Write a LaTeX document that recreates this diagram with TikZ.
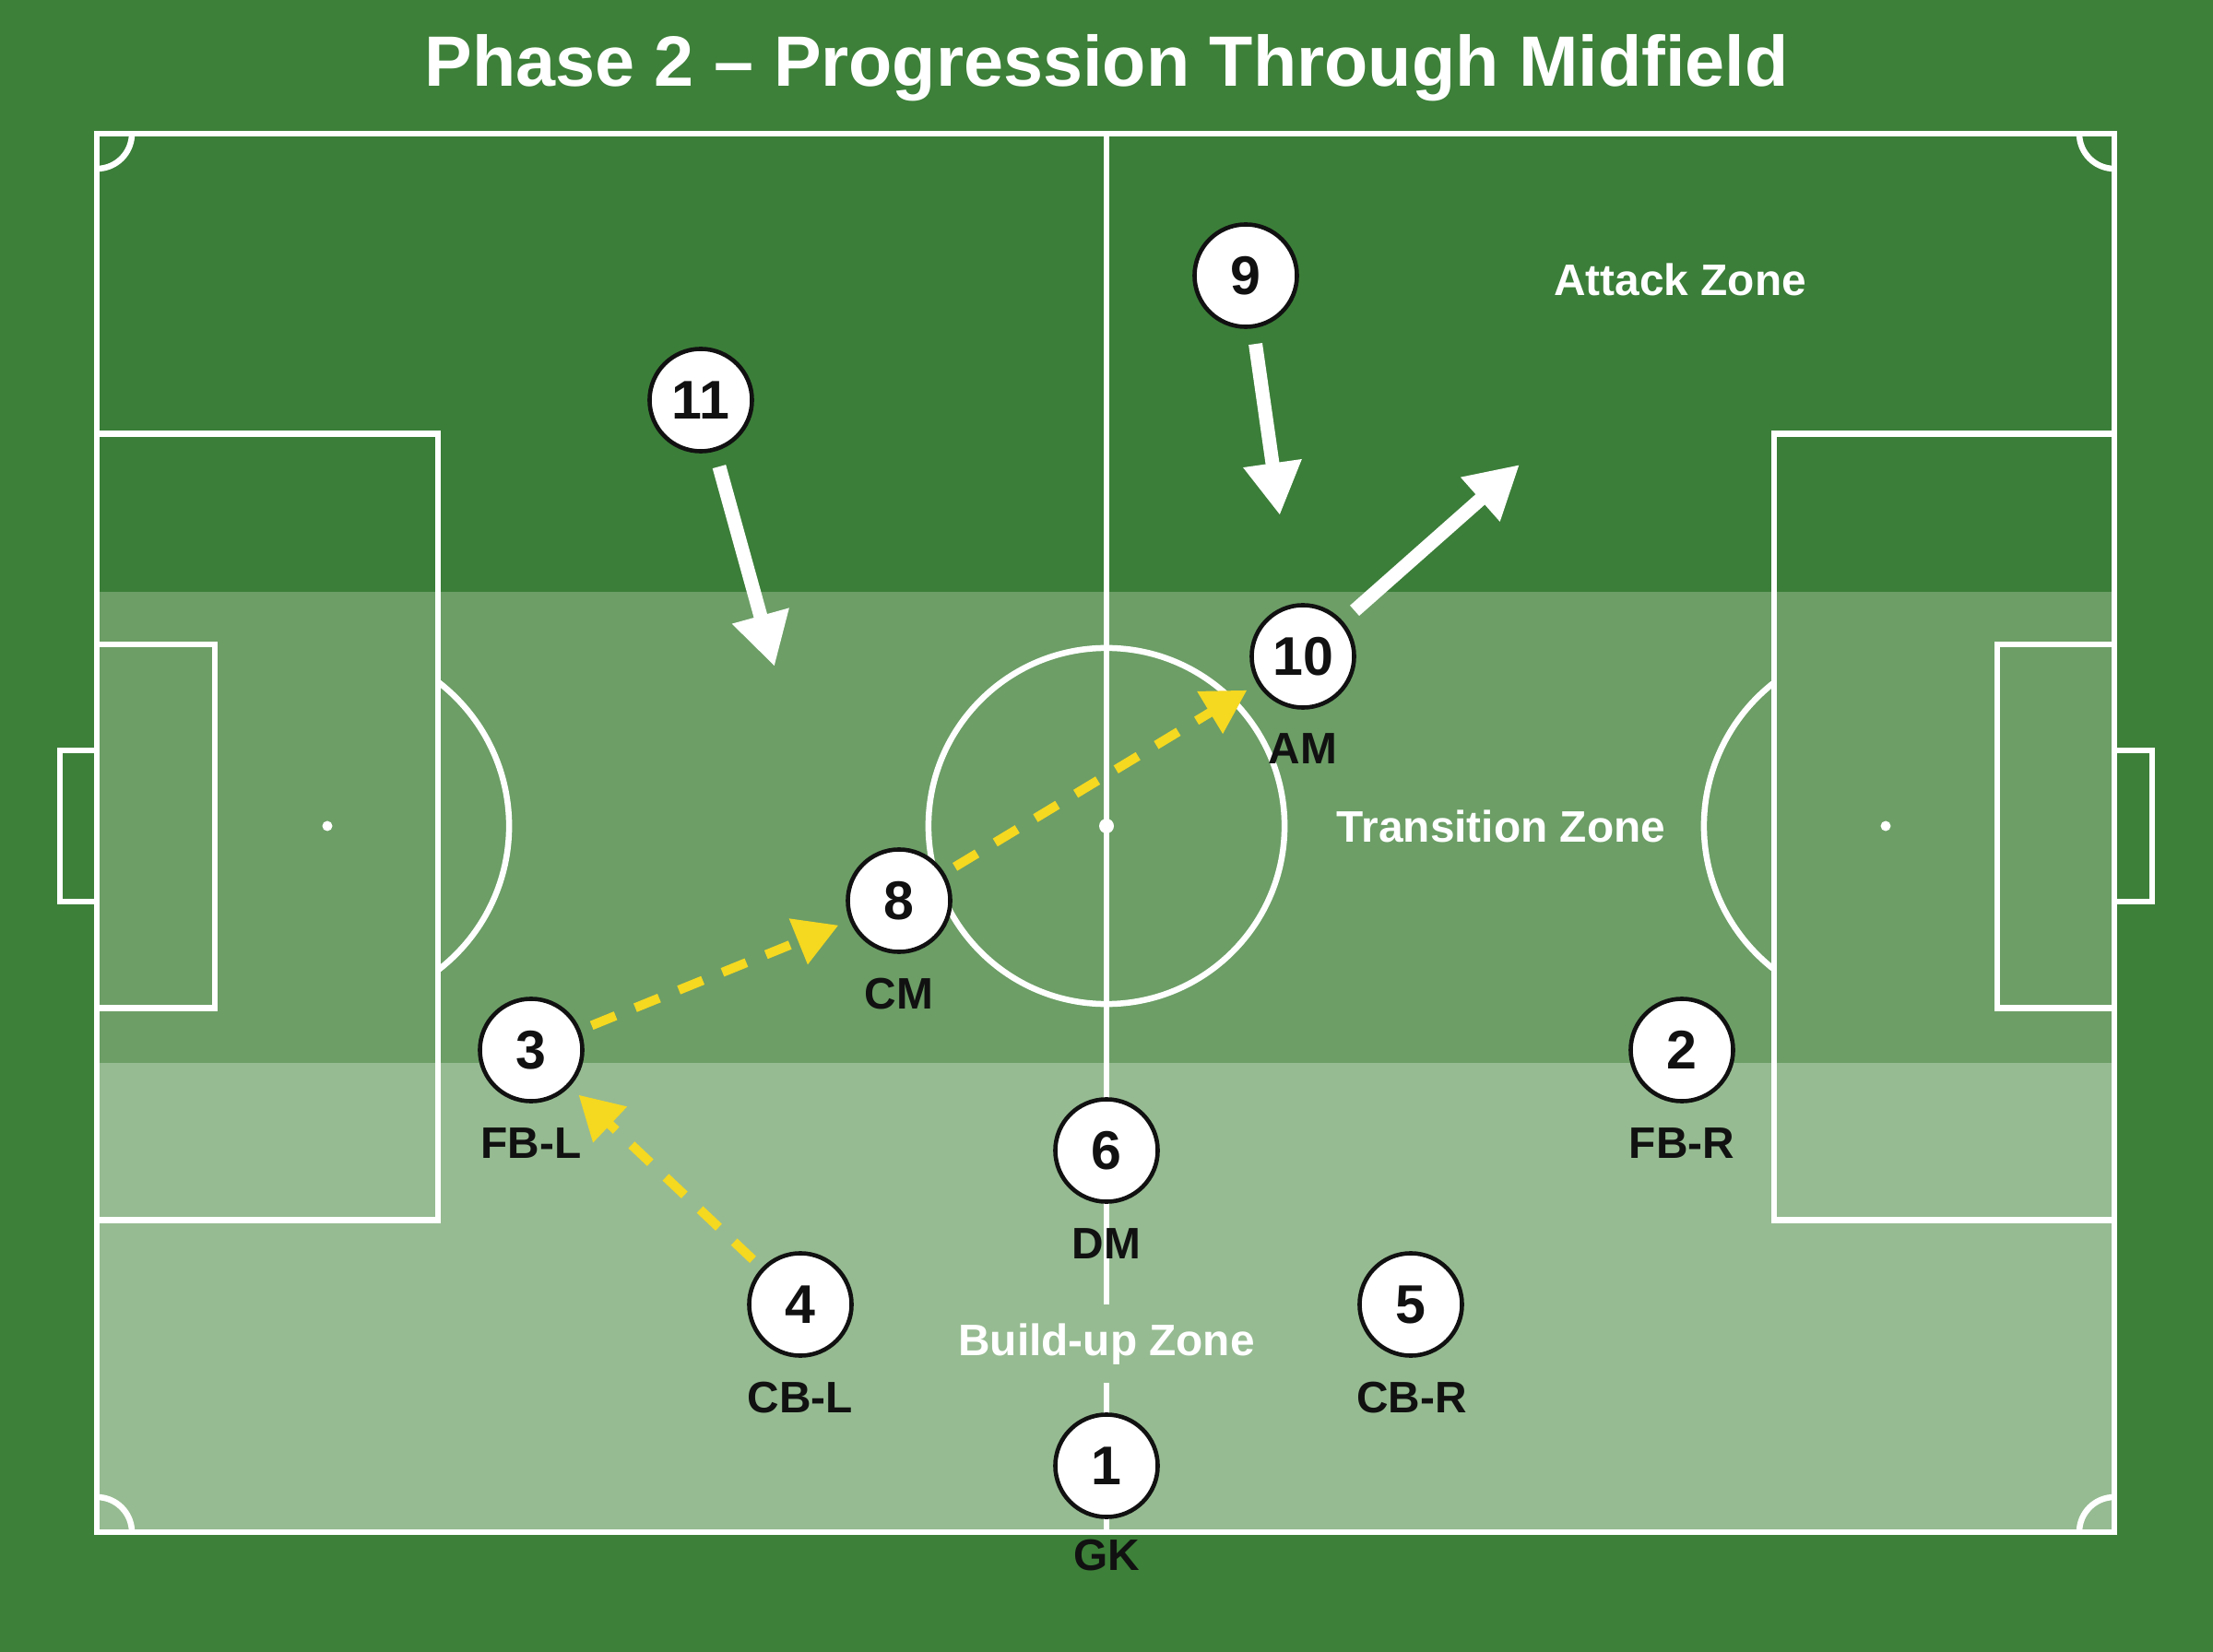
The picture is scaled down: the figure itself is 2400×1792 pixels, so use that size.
\documentclass[tikz,border=0pt]{standalone}
\usepackage{fontspec}
\setmainfont{Liberation Sans}
\usetikzlibrary{arrows.meta}
\definecolor{bggreen}{RGB}{61,128,57}
\definecolor{attackg}{RGB}{59,126,57}
\definecolor{transg}{RGB}{108,158,102}
\definecolor{buildg}{RGB}{150,187,146}
\definecolor{passy}{RGB}{245,216,32}
\definecolor{inkblack}{RGB}{17,17,17}
\begin{document}
\begin{tikzpicture}[x=0.01cm,y=-0.01cm,
  pitchline/.style={draw=white,line width=0.065cm},
  player/.style={circle,draw=inkblack,fill=white,line width=0.046cm,minimum size=1.11cm,inner sep=0pt,text=inkblack,font=\fontsize{16.8}{18}\selectfont\bfseries},
  role/.style={anchor=base,font=\fontsize{13.6}{15}\selectfont\bfseries,text=inkblack,inner sep=0pt},
  zone/.style={anchor=base,font=\fontsize{13.6}{15}\selectfont\bfseries,text=white,inner sep=0pt},
  run/.style={draw=white,line width=0.15cm,-{Triangle[length=0.57cm,width=0.60cm]},shorten <=0.17cm},
  pass/.style={draw=passy,line width=0.1cm,dash pattern=on 0.28cm off 0.23cm,-{Triangle[length=0.47cm,width=0.51cm]},shorten <=0.13cm,shorten >=0.13cm}
]
\useasboundingbox (0,0) rectangle (2400,1792);
\fill[bggreen] (0,0) rectangle (2400,1792);
% zones
\fill[attackg] (105,145) rectangle (2293,642);
\fill[transg] (105,642) rectangle (2293,1153);
\fill[buildg] (105,1153) rectangle (2293,1662);
% pitch markings
\draw[pitchline] (105,145) rectangle (2293,1662);
\draw[pitchline] (1200,145) -- (1200,1662);
\draw[pitchline] (1200,896) circle[radius=1.93cm];
\fill[white] (1200,896) circle[radius=0.08cm];
% left end
\draw[pitchline] (105,470.5) rectangle (475,1323.5);
\draw[pitchline] (105,699) rectangle (233,1093.5);
\draw[pitchline] (65,814) rectangle (105,978);
\fill[white] (355,896) circle[radius=0.055cm];
\draw[pitchline] (355,896) ++(-52.5:1.97cm) arc[start angle=-52.5,end angle=52.5,radius=1.97cm];
% right end
\draw[pitchline] (1924,470.5) rectangle (2293,1323.5);
\draw[pitchline] (2166,699) rectangle (2293,1093.5);
\draw[pitchline] (2293,814) rectangle (2334,978);
\fill[white] (2045,896) circle[radius=0.055cm];
\draw[pitchline] (2045,896) ++(127.5:1.97cm) arc[start angle=127.5,end angle=232.5,radius=1.97cm];
% corner arcs
\draw[pitchline] (105,145) ++(0:0.38cm) arc[start angle=0,end angle=-90,radius=0.38cm];
\draw[pitchline] (2293,145) ++(180:0.38cm) arc[start angle=180,end angle=270,radius=0.38cm];
\draw[pitchline] (105,1662) ++(0:0.38cm) arc[start angle=0,end angle=90,radius=0.38cm];
\draw[pitchline] (2293,1662) ++(180:0.38cm) arc[start angle=180,end angle=90,radius=0.38cm];
% title
\node[anchor=base,text=white,inner sep=0pt,font=\fontsize{22}{26}\selectfont\bfseries] (title) at (1200,94) {Phase 2 – Progression Through Midfield};
% zone labels
\node[zone] (zattack) at (1822,321) {Attack Zone};
\node[zone] (ztrans) at (1628,914) {Transition Zone};
\node[zone,fill=buildg,inner xsep=0.1cm,inner ysep=0.2cm] (zbuild) at (1200,1470) {Build-up Zone};
% players
\node[player] (n11) at (760,434) {11};
\node[player] (n9) at (1351,299) {9};
\node[player] (n10) at (1413,712) {10};
\node[player] (n8) at (975,977) {8};
\node[player] (n3) at (576,1139) {3};
\node[player] (n2) at (1824,1139) {2};
\node[player] (n6) at (1200,1248) {6};
\node[player] (n4) at (868,1415) {4};
\node[player] (n5) at (1530,1415) {5};
\node[player] (n1) at (1200,1590) {1};
% role labels
\node[role] (l10) at (1413,829) {AM};
\node[role] (l8) at (975,1094) {CM};
\node[role] (l3) at (576,1256) {FB-L};
\node[role] (l2) at (1824,1256) {FB-R};
\node[role] (l6) at (1200,1365) {DM};
\node[role] (l4) at (868,1532) {CB-L};
\node[role] (l5) at (1531,1532) {CB-R};
\node[role] (l1) at (1200,1703) {GK};
% runs
\coordinate (t11) at (840,723);
\coordinate (t9) at (1388,559);
\coordinate (t10) at (1648,504);
\draw[run] (n11) -- (t11);
\draw[run] (n9) -- (t9);
\draw[run] (n10) -- (t10);
% passes
\draw[pass] (n4) -- (n3);
\draw[pass] (n3) -- (n8);
\draw[pass] (n8) -- (n10);
\end{tikzpicture}
\end{document}
